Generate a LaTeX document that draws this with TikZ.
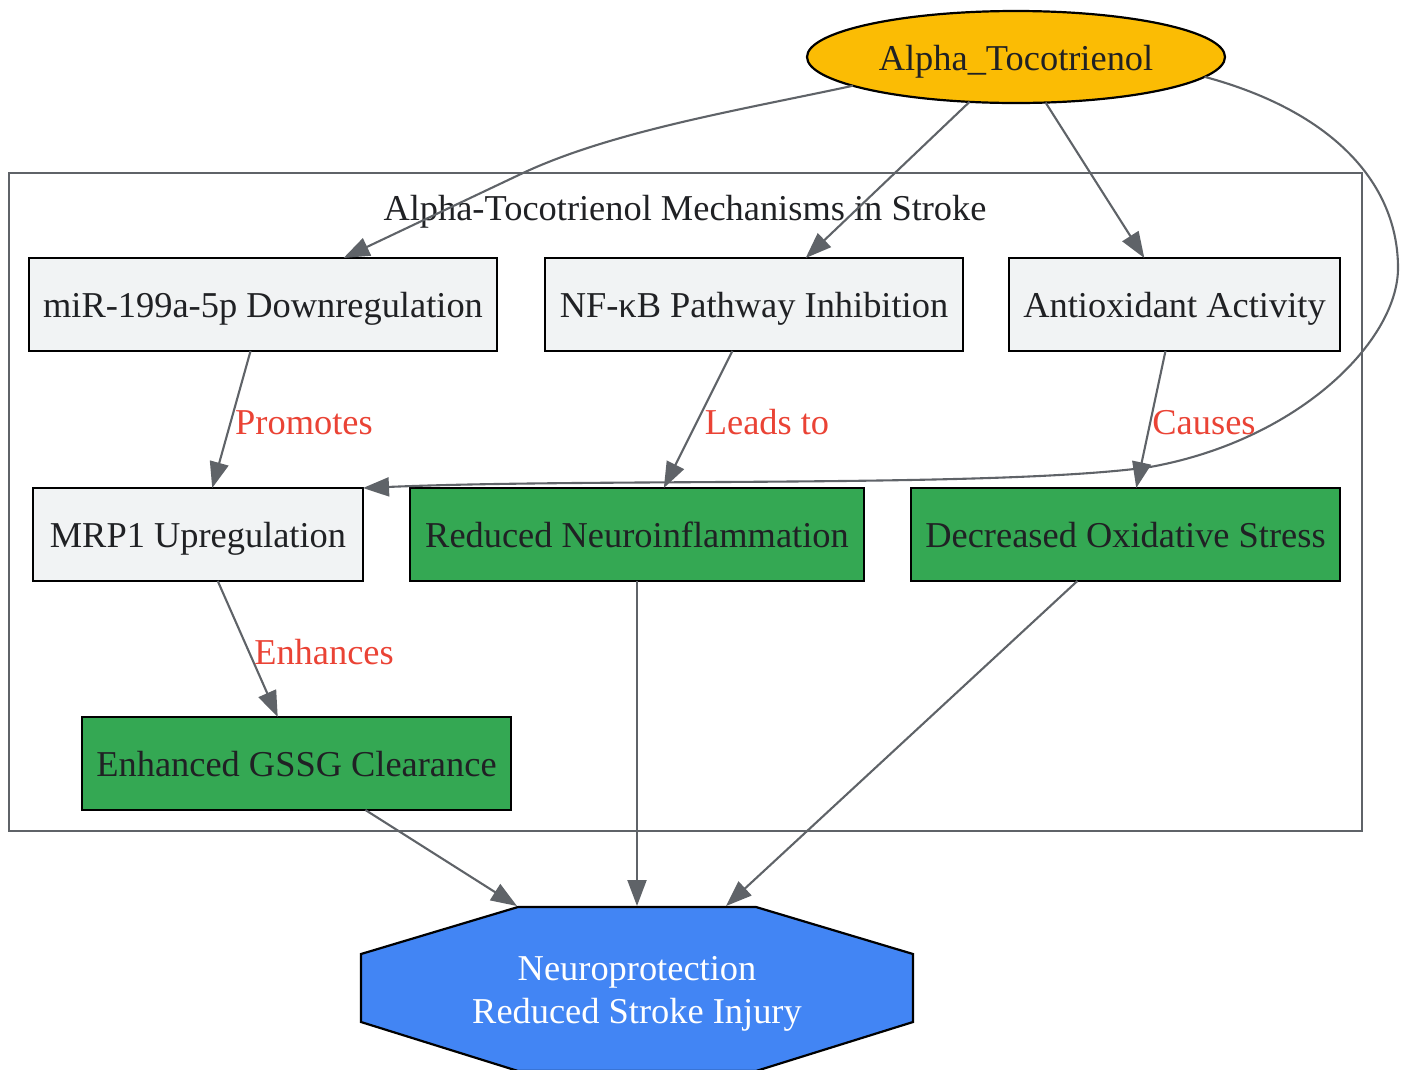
\documentclass[tikz,border=0pt]{standalone}
\usepackage{fontspec}
\setmainfont{Liberation Serif}
\usetikzlibrary{arrows.meta,shapes.geometric}
\definecolor{edgegray}{HTML}{5F6368}
\definecolor{boxgray}{HTML}{F1F3F4}
\definecolor{gyellow}{HTML}{FBBC04}
\definecolor{ggreen}{HTML}{34A853}
\definecolor{gblue}{HTML}{4285F4}
\definecolor{gred}{HTML}{EA4335}
\definecolor{txt}{HTML}{202124}
\begin{document}
\begin{tikzpicture}[x=1pt,y=-1pt,
  every node/.style={font=\fontsize{36.4}{43}\selectfont},
  oneline/.style={text height=26pt, text depth=0pt},
  box/.style={oneline, draw=black, line width=2.2pt, rectangle, minimum height=93pt, inner sep=0pt, outer sep=0pt, text=txt},
  graybox/.style={box, fill=boxgray},
  greenbox/.style={box, fill=ggreen},
  edge/.style={draw=edgegray, line width=2.1pt, -{Triangle[length=26pt,width=19pt]}},
  elabel/.style={oneline, text=gred, inner sep=0pt},
]
\useasboundingbox (0,0) rectangle (1407,1069);

% cluster
\node[draw=edgegray, line width=2pt, rectangle, minimum width=1353pt, minimum height=658pt, inner sep=0pt] (cluster) at (685.5,502) {};
\node[oneline, text=txt, inner sep=0pt] (clabel) at (685,207) {Alpha-Tocotrienol Mechanisms in Stroke};

% nodes
\node[oneline, ellipse, draw=black, line width=2.2pt, fill=gyellow, minimum width=418pt, minimum height=92pt, inner sep=0pt, outer sep=0pt, text=txt] (alpha) at (1016,57) {Alpha\_Tocotrienol};

\node[graybox, minimum width=468pt] (mir) at (263,304.5) {miR-199a-5p Downregulation};
\node[graybox, minimum width=418pt] (nf) at (754,304.5) {NF-κB Pathway Inhibition};
\node[graybox, minimum width=331pt] (anti) at (1174.5,304.5) {Antioxidant Activity};
\node[graybox, minimum width=330pt] (mrp) at (198,534.5) {MRP1 Upregulation};
\node[greenbox, minimum width=454pt] (neuro) at (637,534.5) {Reduced Neuroinflammation};
\node[greenbox, minimum width=429pt] (decox) at (1125.5,534.5) {Decreased Oxidative Stress};
\node[greenbox, minimum width=429pt] (gssg) at (296.5,763.5) {Enhanced GSSG Clearance};

% octagon
\filldraw[fill=gblue, draw=black, line width=2.2pt]
  (361,954) -- (518,907) -- (756,907) -- (913,954) -- (913,1022) -- (756,1071) -- (518,1071) -- (361,1022) -- cycle;
\node[text=white, align=center, inner sep=0pt] (np) at (637,994) {Neuroprotection\\Reduced Stroke Injury};
\coordinate (npA) at (517,906);
\coordinate (npB) at (637,906);
\coordinate (npC) at (726,906);

% edges from alpha
\draw[edge] (alpha.190.8) .. controls (740,110) and (613,131) .. (523,173) -- (mir.30.7);
\draw[edge] (alpha.-136.2) -- (nf.42);
\draw[edge] (alpha.-57.8) -- (anti.123);
\draw[edge] (alpha.-6) .. controls (1335,112) and (1398,185) .. (1398,268)
  .. controls (1398,340) and (1300,440) .. (1150,467)
  .. controls (1000,488) and (600,478) .. (mrp.north east);

% inner edges
\draw[edge] (mir.-105) -- (mrp.73.6);
\node[elabel] (lprom) at (304,421) {Promotes};
\draw[edge] (nf.-115.8) -- (neuro.60.4);
\node[elabel] (llead) at (767,421) {Leads to};
\draw[edge] (anti.-101.3) -- (decox.77.5);
\node[elabel] (lcause) at (1204,421) {Causes};
\draw[edge] (mrp.-67.2) -- (gssg.112.3);
\node[elabel] (lenh) at (324,651) {Enhances};

% to neuroprotection
\draw[edge] (gssg.-34.3) -- (npA);
\draw[edge] (neuro.south) -- (npB);
\draw[edge] (decox.-136.2) -- (npC);
\end{tikzpicture}
\end{document}
